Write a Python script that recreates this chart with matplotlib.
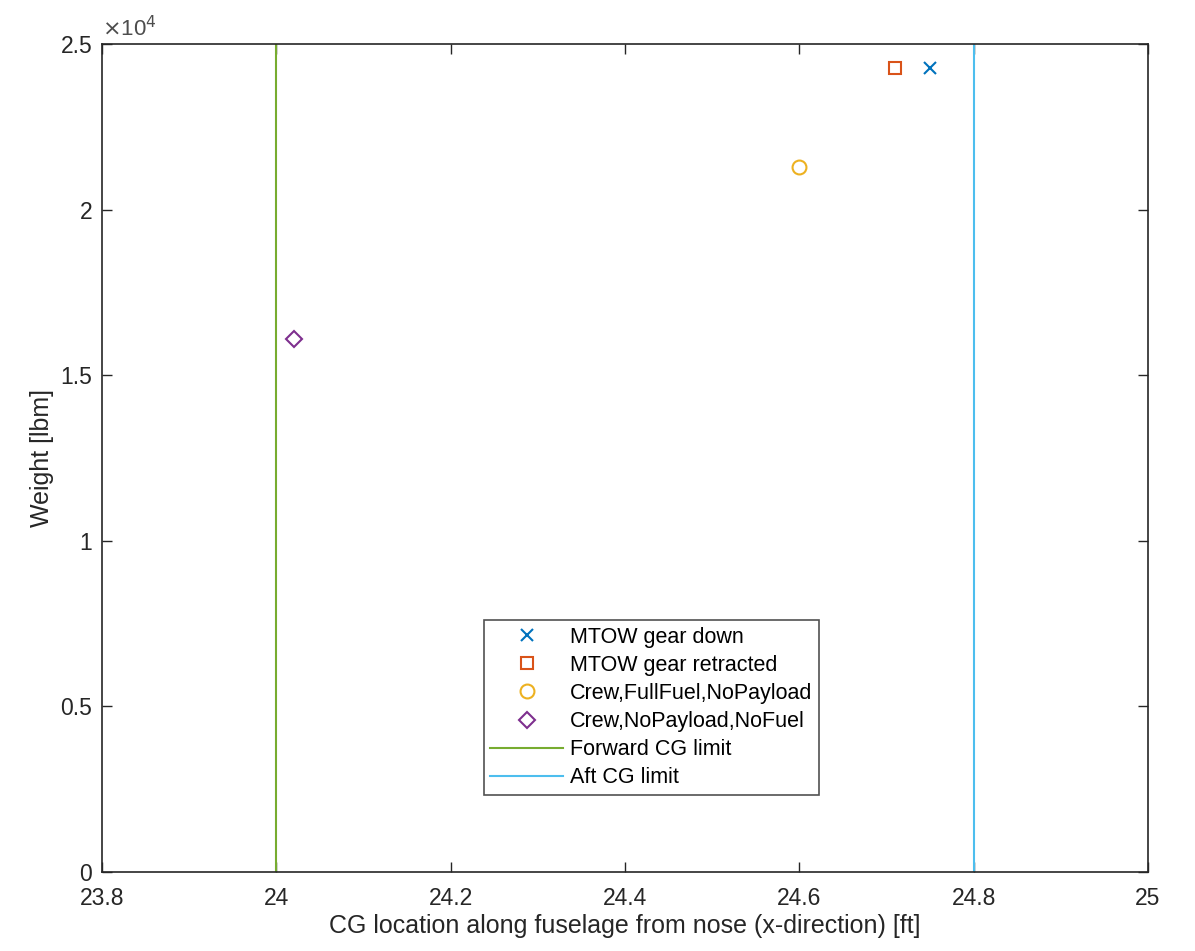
import matplotlib.pyplot as plt
from matplotlib.ticker import FuncFormatter

plt.rcParams['font.family'] = ['Liberation Sans', 'DejaVu Sans']

# CG location [ft] and weight [lbm] for each loading case
labels = ['MTOW gear down', 'MTOW gear retracted',
          'Crew,FullFuel,NoPayload', 'Crew,NoPayload,NoFuel']
cg_x = [24.75, 24.71, 24.60, 24.02]
weight = [24270, 24270, 21290, 16090]
markers = ['x', 's', 'o', 'D']
colors = ['#0072BD', '#D95319', '#EDB120', '#7E2F8E']

fwd_limit = 24.0
aft_limit = 24.8

fig = plt.figure(figsize=(11.95, 9.51), dpi=100)
ax = fig.add_axes([0.0854, 0.0831, 0.8753, 0.8706])

for xv, yv, m, c, lab in zip(cg_x, weight, markers, colors, labels):
    ms = {'x': 9, 's': 8.5, 'o': 10, 'D': 8.5}[m]
    ax.plot(xv, yv, linestyle='none', marker=m, markersize=ms,
            markerfacecolor='none', markeredgecolor=c, markeredgewidth=1.5,
            color=c, label=lab)

ax.axvline(fwd_limit, color='#77AC30', lw=1.5, label='Forward CG limit')
ax.axvline(aft_limit, color='#4DBEEE', lw=1.5, label='Aft CG limit')

ax.set_xlim(23.8, 25)
ax.set_ylim(0, 25000)
ax.set_xticks([23.8, 24, 24.2, 24.4, 24.6, 24.8, 25])
ax.set_xticklabels(['23.8', '24', '24.2', '24.4', '24.6', '24.8', '25'])
ax.set_yticks([0, 5000, 10000, 15000, 20000, 25000])
ax.yaxis.set_major_formatter(FuncFormatter(lambda v, p: '%g' % (v / 1e4)))
ax.text(0.0, 1.004, r'$\times$10$^4$', transform=ax.transAxes, fontsize=16,
        color='#4d4d4d', va='bottom', ha='left')

ax.tick_params(direction='in', top=True, right=True, labelsize=16.5,
               colors='#262626', length=7, width=1)
ax.tick_params(axis='x', pad=11)
ax.tick_params(axis='y', pad=7)
for s in ax.spines.values():
    s.set_color('#262626')
    s.set_linewidth(1.2)

ax.set_xlabel('CG location along fuselage from nose (x-direction) [ft]',
              fontsize=18, color='#262626', labelpad=3)
ax.set_ylabel('Weight [lbm]', fontsize=18, color='#262626', labelpad=5)

leg = ax.legend(loc='upper left', bbox_to_anchor=(0.365, 0.304),
                borderaxespad=0, fontsize=15.5, frameon=True, fancybox=False,
                edgecolor='#262626', handlelength=3.4, handletextpad=0.3,
                labelspacing=0.33, borderpad=0.3)
leg.get_frame().set_linewidth(1.2)

fig.savefig('out.png', dpi=100)
